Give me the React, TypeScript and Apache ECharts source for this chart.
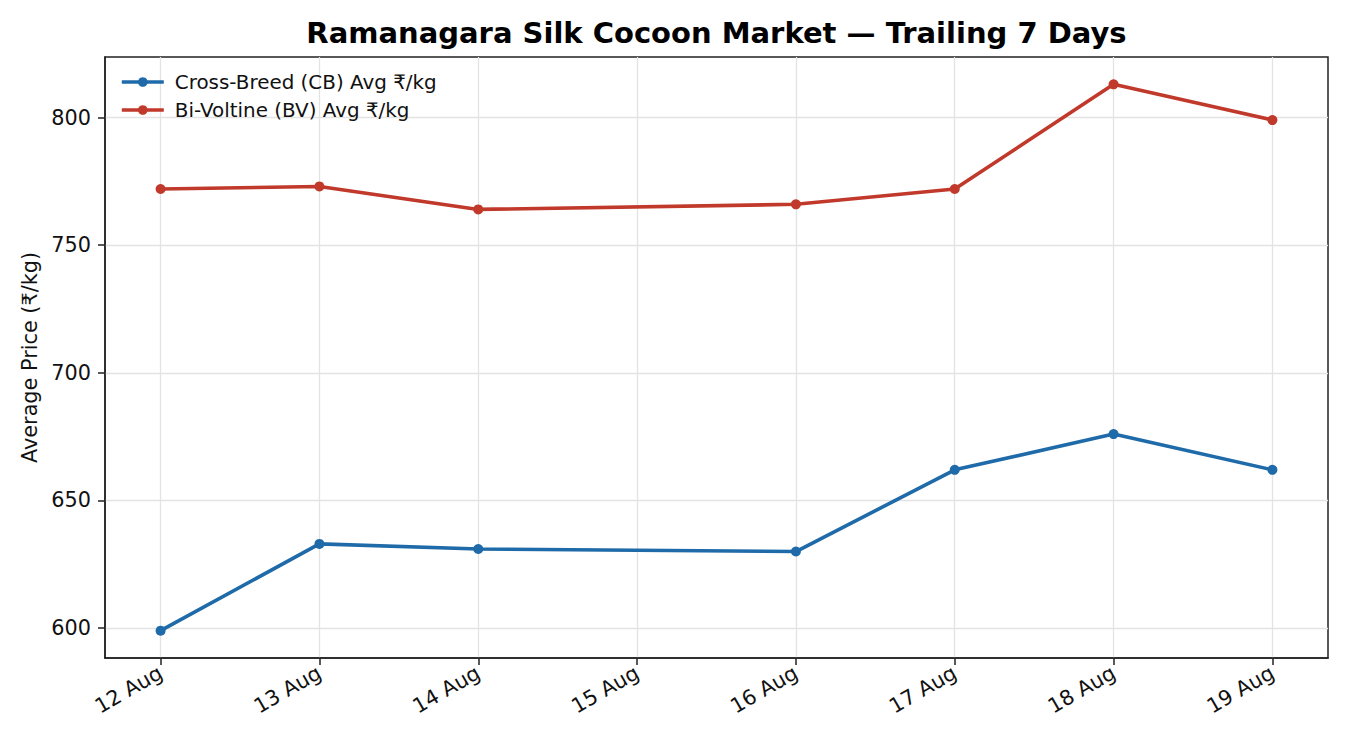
import React, { useEffect, useRef } from "react";
import * as echarts from "echarts";

const dayNumbers = [12, 13, 14, 16, 17, 18, 19];
const cbValues = [599, 633, 631, 630, 662, 676, 662];
const bvValues = [772, 773, 764, 766, 772, 813, 799];
const tickDays = [12, 13, 14, 15, 16, 17, 18, 19];
const tickLabels = ["12 Aug", "13 Aug", "14 Aug", "15 Aug", "16 Aug", "17 Aug", "18 Aug", "19 Aug"];
const yTicks = [600, 650, 700, 750, 800];
const seriesNames = ["Cross-Breed (CB) Avg ₹/kg", "Bi-Voltine (BV) Avg ₹/kg"];
const titleText = "Ramanagara Silk Cocoon Market — Trailing 7 Days";
const yName = "Average Price (₹/kg)";

const FONT = "DejaVu Sans";
const AXIS = "#222222";

export default function App() {
  const ref = useRef<HTMLDivElement>(null);
  useEffect(() => {
    if (!ref.current) return;
    const chart = echarts.init(ref.current, null, { renderer: "svg" });
    const base = tickDays[0];
    const xVals = tickDays.map((d) => d - base);
    const cbData = dayNumbers.map((d, i) => [d - base, cbValues[i]]);
    const bvData = dayNumbers.map((d, i) => [d - base, bvValues[i]]);
    const allY = cbValues.concat(bvValues);
    const yMin = Math.min(...allY);
    const yMax = Math.max(...allY);
    const yPad = (yMax - yMin) * 0.05;
    const xSpan = xVals[xVals.length - 1] - xVals[0];
    const xPad = xSpan * 0.05;

    const lineSeries = (name: string, data: number[][], color: string) => ({
      name,
      type: "line",
      data,
      symbol: "circle",
      symbolSize: 10,
      lineStyle: { color, width: 3.6 },
      itemStyle: { color },
      emphasis: { disabled: true },
    });

    chart.setOption({
      animation: false,
      backgroundColor: "#ffffff",
      textStyle: { fontFamily: FONT },
      graphic: [
        {
          type: "text",
          x: 716.5,
          y: 18,
          style: {
            text: titleText,
            fontFamily: FONT,
            fontWeight: "bold",
            fontSize: 29,
            fill: "#000000",
            textAlign: "center",
            textVerticalAlign: "top",
          },
        },
      ],
      legend: {
        show: true,
        orient: "vertical",
        left: 120,
        top: 72,
        padding: 0,
        itemWidth: 42,
        itemHeight: 12,
        itemGap: 8,
        lineStyle: { width: 3.6 },
        textStyle: { fontFamily: FONT, fontSize: 19.9, color: "#111", padding: [0, 0, 0, 6] },
        data: seriesNames,
      },
      grid: {
        left: 105,
        right: 22,
        top: 57,
        bottom: 92,
        show: true,
        borderColor: AXIS,
        borderWidth: 1.5,
        containLabel: false,
      },
      xAxis: {
        type: "value",
        min: xVals[0] - xPad,
        max: xVals[xVals.length - 1] + xPad,
        axisLine: { show: true, onZero: false, lineStyle: { color: AXIS, width: 1.5 } },
        axisTick: {
          show: true,
          length: 7,
          customValues: xVals,
          lineStyle: { color: AXIS, width: 1.5 },
        },
        axisLabel: {
          customValues: xVals,
          rotate: 30,
          margin: 13,
          fontFamily: FONT,
          fontSize: 20.8,
          color: "#111",
          formatter: (v: number) => {
            const idx = xVals.indexOf(Math.round(v));
            return idx >= 0 ? tickLabels[idx] : "";
          },
        },
        splitLine: { show: true, lineStyle: { color: "#e3e3e3", width: 1.3 } },
      },
      yAxis: {
        type: "value",
        min: yMin - yPad,
        max: yMax + yPad,
        name: yName,
        nameLocation: "middle",
        nameGap: 62,
        nameTextStyle: { fontFamily: FONT, fontSize: 20.8, color: "#111" },
        axisLine: { show: true, onZero: false, lineStyle: { color: AXIS, width: 1.5 } },
        axisTick: {
          show: true,
          length: 7,
          customValues: yTicks,
          lineStyle: { color: AXIS, width: 1.5 },
        },
        axisLabel: {
          customValues: yTicks,
          margin: 14,
          fontFamily: FONT,
          fontSize: 20.8,
          color: "#111",
        },
        splitLine: { show: true, lineStyle: { color: "#e3e3e3", width: 1.3 } },
      },
      series: [
        lineSeries(seriesNames[0], cbData, "#1f6aa8"),
        lineSeries(seriesNames[1], bvData, "#c0392b"),
      ],
    });
    return () => chart.dispose();
  }, []);
  return (
    <div
      ref={ref}
      style={{ position: "fixed", left: 0, top: 0, width: 1350, height: 750, background: "#fff" }}
    />
  );
}
